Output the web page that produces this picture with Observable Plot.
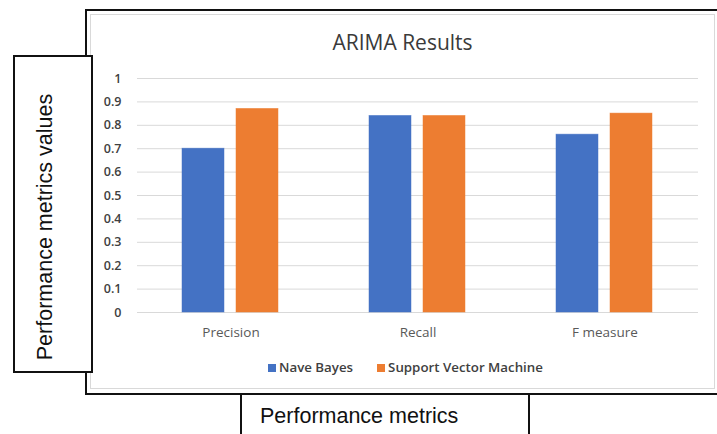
<!DOCTYPE html>
<html>
<head>
<meta charset="utf-8">
<script src="https://cdn.jsdelivr.net/npm/d3@7"></script>
<script src="https://cdn.jsdelivr.net/npm/@observablehq/plot@0.6"></script>
<style>
  html, body { margin: 0; padding: 0; background: #fff; }
  #wrap { position: relative; width: 717px; height: 434px; overflow: hidden; background: #fff; }
  .outer { position: absolute; left: 85px; top: 9px; width: 700px; height: 382px; border: 2px solid #111; box-sizing: content-box; }
  .inner { position: absolute; left: 90px; top: 14px; width: 623px; height: 373px; border: 1px solid #d9d9d9; }
  #chart { position: absolute; left: 0; top: 0; }
  .title { position: absolute; left: 90px; width: 625px; top: 32px; line-height: 21px; text-align: center; font-family: "Open Sans", Lato, sans-serif; font-size: 21px; color: #3a3a3a; }
  .legend { position: absolute; left: 268px; top: 358px; display: flex; gap: 24px; font-family: "Open Sans", Lato, sans-serif; font-size: 13.3px; font-weight: 600; color: #404040; }
  .legend span.sw { display: inline-block; width: 8px; height: 8px; margin-right: 3px; vertical-align: 0px; }
  .ylab { position: absolute; left: 13px; top: 55px; width: 76px; height: 314px; border: 2px solid #111; background: #fff; }
  .ylab div { position: absolute; left: calc(50% - 8px); top: calc(50% + 13px); transform: translate(-50%, -50%) rotate(-90deg); white-space: nowrap; font-family: "Liberation Sans", Arial, sans-serif; font-size: 21.5px; color: #111; }
  .xlab { position: absolute; left: 240px; top: 393px; width: 286px; height: 60px; border: 2px solid #111; background: #fff; }
  .xlab div { position: absolute; left: 18px; top: 9px; white-space: nowrap; font-family: "Liberation Sans", Arial, sans-serif; font-size: 21.5px; color: #111; }
</style>
</head>
<body>
<div id="wrap">
  <div class="outer"></div>
  <div class="inner"></div>
  <div id="chart"></div>
  <div class="title" id="title"></div>
  <div class="legend" id="legend"></div>
  <div class="ylab"><div id="ylab"></div></div>
  <div class="xlab"><div id="xlab"></div></div>
</div>
<script>
const title = "ARIMA Results";
const yLabel = "Performance metrics values";
const xLabel = "Performance metrics";
const categories = ["Precision", "Recall", "F measure"];
const series = ["Nave Bayes", "Support Vector Machine"];
const naveBayes = [0.70, 0.84, 0.76];
const supportVectorMachine = [0.87, 0.84, 0.85];
const colors = ["#4472c4", "#ed7d31"];
const yTicks = [0, 0.1, 0.2, 0.3, 0.4, 0.5, 0.6, 0.7, 0.8, 0.9, 1];

const values = [naveBayes, supportVectorMachine];
const data = [];
categories.forEach((c, i) => {
  series.forEach((s, j) => data.push({category: c, series: s, value: values[j][i]}));
});

document.getElementById("title").textContent = title;
document.getElementById("ylab").textContent = yLabel;
document.getElementById("xlab").textContent = xLabel;
const legend = document.getElementById("legend");
series.forEach((s, j) => {
  const item = document.createElement("div");
  const sw = document.createElement("span");
  sw.className = "sw";
  sw.style.background = colors[j];
  item.appendChild(sw);
  item.appendChild(document.createTextNode(s));
  legend.appendChild(item);
});

const chart = Plot.plot({
  width: 717,
  height: 395,
  marginLeft: 137,
  marginRight: 19,
  marginTop: 78,
  marginBottom: 83,
  style: {fontFamily: "'Open Sans', Lato, sans-serif", fontSize: "13px", color: "#404040", background: "transparent"},
  fx: {domain: categories, padding: 0, label: null},
  x: {domain: series, paddingInner: 0.22, paddingOuter: 0.84, axis: null},
  y: {domain: [0, 1], axis: null},
  color: {domain: series, range: colors},
  marks: [
    Plot.ruleY(yTicks, {stroke: "#d9d9d9", strokeWidth: 1, strokeOpacity: 1}),
    Plot.barY(data, {fx: "category", x: "series", y: "value", fill: "series", stroke: "series", strokeOpacity: 0.6, strokeWidth: 0.8}),
    Plot.axisY({ticks: yTicks, tickSize: 0, tickPadding: 16, tickFormat: d => String(+d.toFixed(1)), label: null, fontSize: 12.5, fontWeight: 600, fill: "#404040"}),
    Plot.axisFx({anchor: "bottom", tickSize: 0, tickPadding: 15, label: null, fontSize: 13.5, fill: "#595959"})
  ]
});
document.getElementById("chart").appendChild(chart);
</script>
</body>
</html>
